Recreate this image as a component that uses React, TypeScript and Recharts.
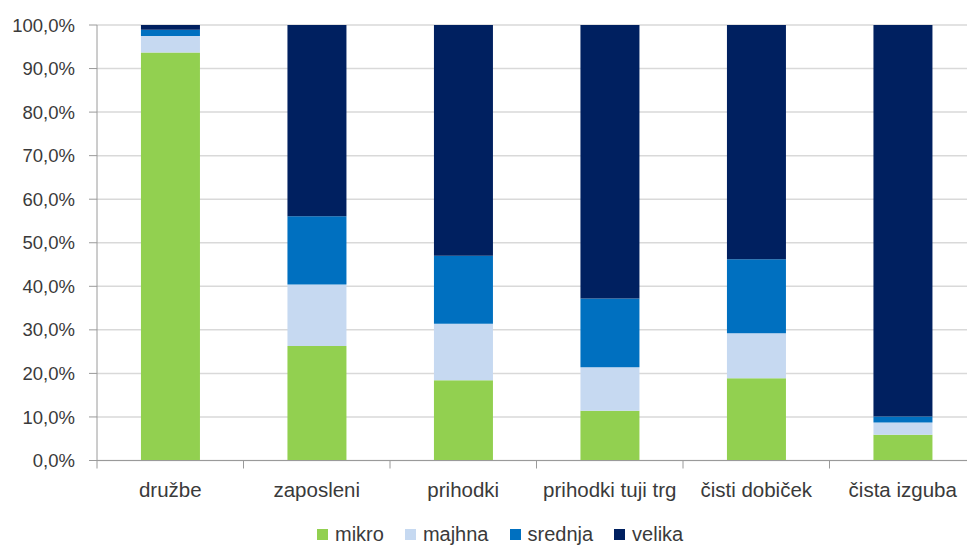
import React from 'react';
import { BarChart, Bar, XAxis, YAxis, CartesianGrid, Legend } from 'recharts';

// categories and stacked shares (in %)
const categories = ['družbe', 'zaposleni', 'prihodki', 'prihodki tuji trg', 'čisti dobiček', 'čista izguba'];
const mikro = [93.7, 26.3, 18.4, 11.4, 18.9, 5.9];
const majhna = [3.8, 14.1, 13.0, 10.0, 10.3, 2.8];
const srednja = [1.4, 15.7, 15.6, 15.8, 17.0, 1.4];
const velika = [1.1, 43.9, 53.0, 62.8, 53.8, 89.9];
const yTicks = [0, 10, 20, 30, 40, 50, 60, 70, 80, 90, 100];

const series = [
  { key: 'mikro', name: 'mikro', color: '#92D050' },
  { key: 'majhna', name: 'majhna', color: '#C6D9F1' },
  { key: 'srednja', name: 'srednja', color: '#0070C0' },
  { key: 'velika', name: 'velika', color: '#002060' },
];

const data = categories.map((name, i) => ({
  name,
  mikro: mikro[i],
  majhna: majhna[i],
  srednja: srednja[i],
  velika: velika[i],
}));

const CHART_W = 980;
const CHART_H = 546;
const Y_W = 97;
const RIGHT = 4;
const BAND = (CHART_W - Y_W - RIGHT) / categories.length;
const TEXT = '#3A3A3A';
const AXIS = '#9A9A9A';
const FONT = '"Liberation Sans", Arial, sans-serif';

const fmtPct = (v: number) => v.toFixed(1).replace('.', ',') + '%';

const CategoryTick = (props: any) => {
  const { x, y, payload, index } = props;
  const left = x - BAND / 2;
  const last = index === categories.length - 1;
  return (
    <g>
      <line x1={left} y1={y} x2={left} y2={y + 8} stroke={AXIS} />
      {last && <line x1={x + BAND / 2} y1={y} x2={x + BAND / 2} y2={y + 8} stroke={AXIS} />}
      <text x={x} y={y + 36.5} textAnchor="middle" fill={TEXT} fontSize={20.5} fontFamily={FONT}>
        {payload.value}
      </text>
    </g>
  );
};

const LegendContent = () => (
  <div style={{ display: 'flex', alignItems: 'center', paddingLeft: 317, height: 22, fontFamily: FONT, fontSize: 20, color: TEXT }}>
    {series.map(s => (
      <div key={s.key} style={{ display: 'flex', alignItems: 'center', marginRight: 21 }}>
        <span style={{ display: 'inline-block', width: 11, height: 11, background: s.color, marginRight: 7 }} />
        <span style={{ lineHeight: '22px' }}>{s.name}</span>
      </div>
    ))}
  </div>
);

export default function App() {
  return (
    <div style={{ position: 'absolute', left: 0, top: 0, width: 967, height: 546, overflow: 'hidden', background: '#fff' }}>
      <BarChart
        width={CHART_W}
        height={CHART_H}
        data={data}
        margin={{ top: 25, right: RIGHT, left: 0, bottom: 0 }}
        barCategoryGap="30%"
      >
        <CartesianGrid vertical={false} stroke="#D9D9D9" strokeWidth={1.5} />
        <XAxis
          dataKey="name"
          height={63.5}
          stroke={AXIS}
          tickLine={false}
          tickSize={0}
          tickMargin={0}
          interval={0}
          tick={<CategoryTick />}
        />
        <YAxis
          width={Y_W}
          domain={[0, 100]}
          ticks={yTicks}
          tickFormatter={fmtPct}
          stroke={AXIS}
          tickSize={8}
          tickMargin={14}
          tick={{ fill: TEXT, fontSize: 18.5, fontFamily: FONT }}
          interval={0}
        />
        <Legend
          content={<LegendContent />}
          wrapperStyle={{ left: 0, top: 523, width: CHART_W, height: 22 }}
        />
        {series.map(s => (
          <Bar key={s.key} dataKey={s.key} name={s.name} stackId="a" fill={s.color} isAnimationActive={false} />
        ))}
      </BarChart>
    </div>
  );
}
